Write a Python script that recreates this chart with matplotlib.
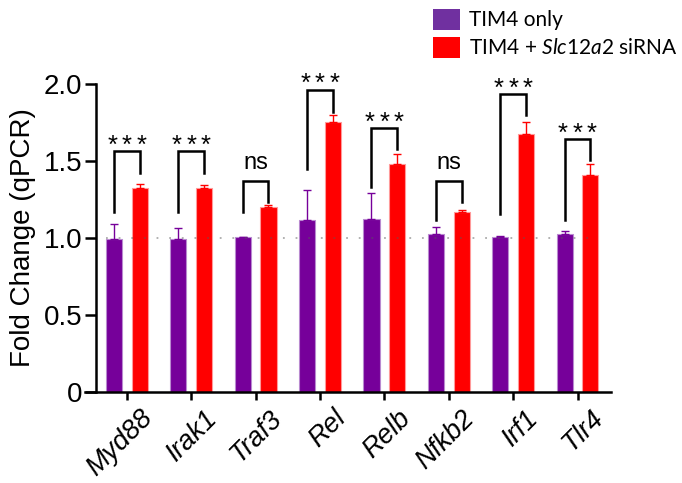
import numpy as np
import matplotlib
matplotlib.use('Agg')
import matplotlib.pyplot as plt
from matplotlib.patches import Patch

plt.rcParams['font.family'] = ['Liberation Sans', 'DejaVu Sans']
plt.rcParams['mathtext.fontset'] = 'custom'
plt.rcParams['mathtext.rm'] = 'Lato'
plt.rcParams['mathtext.it'] = 'Lato:italic'

# data
genes = ['Myd88', 'Irak1', 'Traf3', 'Rel', 'Relb', 'Nfkb2', 'Irf1', 'Tlr4']
tim4_mean = [0.995, 0.99, 1.005, 1.113, 1.124, 1.025, 1.008, 1.025]
tim4_err = [0.097, 0.076, 0.002, 0.197, 0.166, 0.045, 0.002, 0.019]
sirna_mean = [1.321, 1.32, 1.202, 1.751, 1.481, 1.165, 1.673, 1.41]
sirna_err = [0.026, 0.025, 0.008, 0.048, 0.065, 0.015, 0.08, 0.065]
sig_labels = ['***', '***', 'ns', '***', '***', 'ns', '***', '***']
# bracket heights: left leg end, right leg end, top
br_left = [1.167, 1.167, 1.167, 1.444, 1.33, 1.113, 1.152, 1.118]
br_right = [1.42, 1.42, 1.232, 1.816, 1.578, 1.232, 1.799, 1.503]
br_top = [1.561, 1.561, 1.368, 1.961, 1.712, 1.368, 1.93, 1.637]

purple = '#76009a'
red = '#ff0000'

fig = plt.figure(figsize=(6.82, 4.83), dpi=100)
ax = fig.add_axes([85 / 682, 91 / 483, 526 / 682, 308.5 / 483])

x = np.arange(len(genes))
off = 0.2
w = 0.25
ax.bar(x - off, tim4_mean, w, color=purple, edgecolor='#b98ad0', linewidth=0.8, zorder=2)
ax.bar(x + off, sirna_mean, w, color=red, edgecolor='#ff9a9a', linewidth=0.8, zorder=2)
ax.errorbar(x - off, tim4_mean, yerr=[np.zeros(len(x)), tim4_err], fmt='none',
            ecolor=purple, elinewidth=1.0, capsize=3, capthick=1.0, zorder=3)
ax.errorbar(x + off, sirna_mean, yerr=[np.zeros(len(x)), sirna_err], fmt='none',
            ecolor=red, elinewidth=1.0, capsize=3, capthick=1.0, zorder=3)

# baseline at 1.0
ax.plot([x[0] - off - w / 2, x[-1] + off + w / 2], [1, 1], color='0.35', alpha=0.5,
        lw=1.3, ls=(0, (1, 6)), zorder=4)

# significance brackets
for i in range(len(genes)):
    xl = x[i] - off
    xr = x[i] + off
    ax.plot([xl, xl, xr, xr], [br_left[i], br_top[i], br_top[i], br_right[i]],
            color='black', lw=1.8, clip_on=False, zorder=5, solid_joinstyle='miter')
    if sig_labels[i] == 'ns':
        ax.text(x[i], br_top[i] + 0.045, 'ns', ha='center', va='bottom', fontsize=17)
    else:
        for k in (-1, 0, 1):
            ax.annotate('*', (x[i], br_top[i] - 0.01), xytext=(k * 10.4, 0),
                        textcoords='offset points', ha='center', va='baseline',
                        fontsize=18.5, annotation_clip=False)

ax.set_xlim(-0.65, 7.52)
ax.set_ylim(0, 2.0)
ax.spines['left'].set_position(('data', -0.48))
ax.spines['top'].set_visible(False)
ax.spines['right'].set_visible(False)
for s in ['left', 'bottom']:
    ax.spines[s].set_linewidth(1.8)

ax.set_yticks([0, 0.5, 1.0, 1.5, 2.0])
ax.set_yticklabels(['0', '0.5', '1.0', '1.5', '2.0'])
ax.set_xticks(x)
ax.set_xticklabels([])
for i in range(len(genes)):
    ax.annotate(genes[i], (x[i], 0), xytext=(9.2, -9.5), textcoords='offset points',
                rotation=45, ha='right', va='top', rotation_mode='anchor',
                style='italic', fontsize=19.5, annotation_clip=False)
ax.tick_params(axis='y', labelsize=20, width=1.8, length=8, pad=2)
ax.tick_params(axis='x', width=1.8, length=6, pad=4)
ax.set_ylabel('Fold Change (qPCR)', fontsize=20, labelpad=5)

handles = [Patch(facecolor='#7030a0', edgecolor='none'),
           Patch(facecolor=red, edgecolor='none')]
fig.legend(handles, ['TIM4 only', r'TIM4 + $\mathit{Slc12a2}$ siRNA'],
           loc='upper left', bbox_to_anchor=(418 / 682, 1.012), frameon=False,
           prop={'family': 'Lato', 'size': 15}, handlelength=1.3, handleheight=1.2,
           handletextpad=0.45, labelspacing=0.3, borderaxespad=0.3)

fig.savefig('out.png', dpi=100)
